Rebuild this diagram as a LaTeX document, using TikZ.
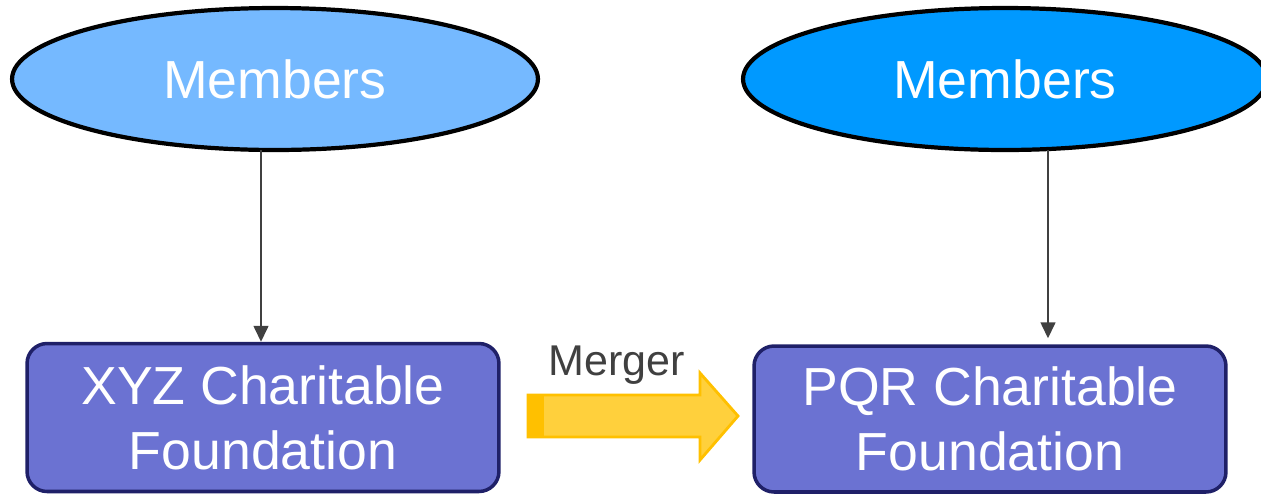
\documentclass[tikz,border=0pt]{standalone}
\usepackage{fontspec}
\setmainfont{Liberation Sans}
\usetikzlibrary{shapes.geometric,arrows.meta,positioning,calc}
\definecolor{lightsky}{HTML}{75B9FF}
\definecolor{deepsky}{HTML}{0099FF}
\definecolor{boxblue}{HTML}{6B72D2}
\definecolor{navy}{HTML}{1F2068}
\definecolor{gold}{HTML}{FFC000}
\definecolor{palegold}{HTML}{FFD03C}
\definecolor{darkgrey}{HTML}{404040}

\begin{document}
\begin{tikzpicture}[x=0.02cm,y=-0.02cm]
\useasboundingbox (0,0) rectangle (1261,495);
% member groups
\node[ellipse, draw=black, line width=2.4pt, fill=lightsky, inner sep=0pt,
      minimum width=10.52cm, minimum height=2.84cm, text=white,
      font=\fontsize{30.5}{36}\selectfont] (lm) at (275,79) {Members};
\node[ellipse, draw=black, line width=2.4pt, fill=deepsky, inner sep=0pt,
      minimum width=10.48cm, minimum height=2.84cm, text=white,
      font=\fontsize{30.5}{36}\selectfont] (rm) at (1005,79) {Members};
% foundations
\node[rectangle, rounded corners=0.4cm, draw=navy, line width=2pt, fill=boxblue,
      minimum width=9.44cm, minimum height=2.96cm, align=center, text=white,
      font=\fontsize{30.5}{37}\selectfont] (lb) at (263,417.5) {XYZ Charitable\\Foundation};
\node[rectangle, rounded corners=0.4cm, draw=navy, line width=2pt, fill=boxblue,
      minimum width=9.44cm, minimum height=2.92cm, align=center, text=white,
      font=\fontsize{30.5}{37}\selectfont] (rb) at (990,419) {PQR Charitable\\Foundation};
% membership links
\coordinate (la) at (261,150);
\coordinate (ra) at (1048,150);
\draw[darkgrey, line width=0.9pt, -{Triangle[length=0.32cm,width=0.3cm]}] (la) -- (la |- lb.north);
\draw[darkgrey, line width=0.9pt, -{Triangle[length=0.32cm,width=0.3cm]}] (ra) -- ($(ra |- rb.north)+(0,-6)$);
% merger arrow
\draw[gold, line width=1.6pt, fill=palegold] (528,395) -- (700,395) -- (700,373) -- (738,416)
  -- (700,460) -- (700,437) -- (528,437) -- cycle;
\fill[gold] (528,395) rectangle (544,437);
\node[text=darkgrey, font=\fontsize{24.5}{28}\selectfont] (mlabel) at (617,365) {Merger};
\end{tikzpicture}
\end{document}
